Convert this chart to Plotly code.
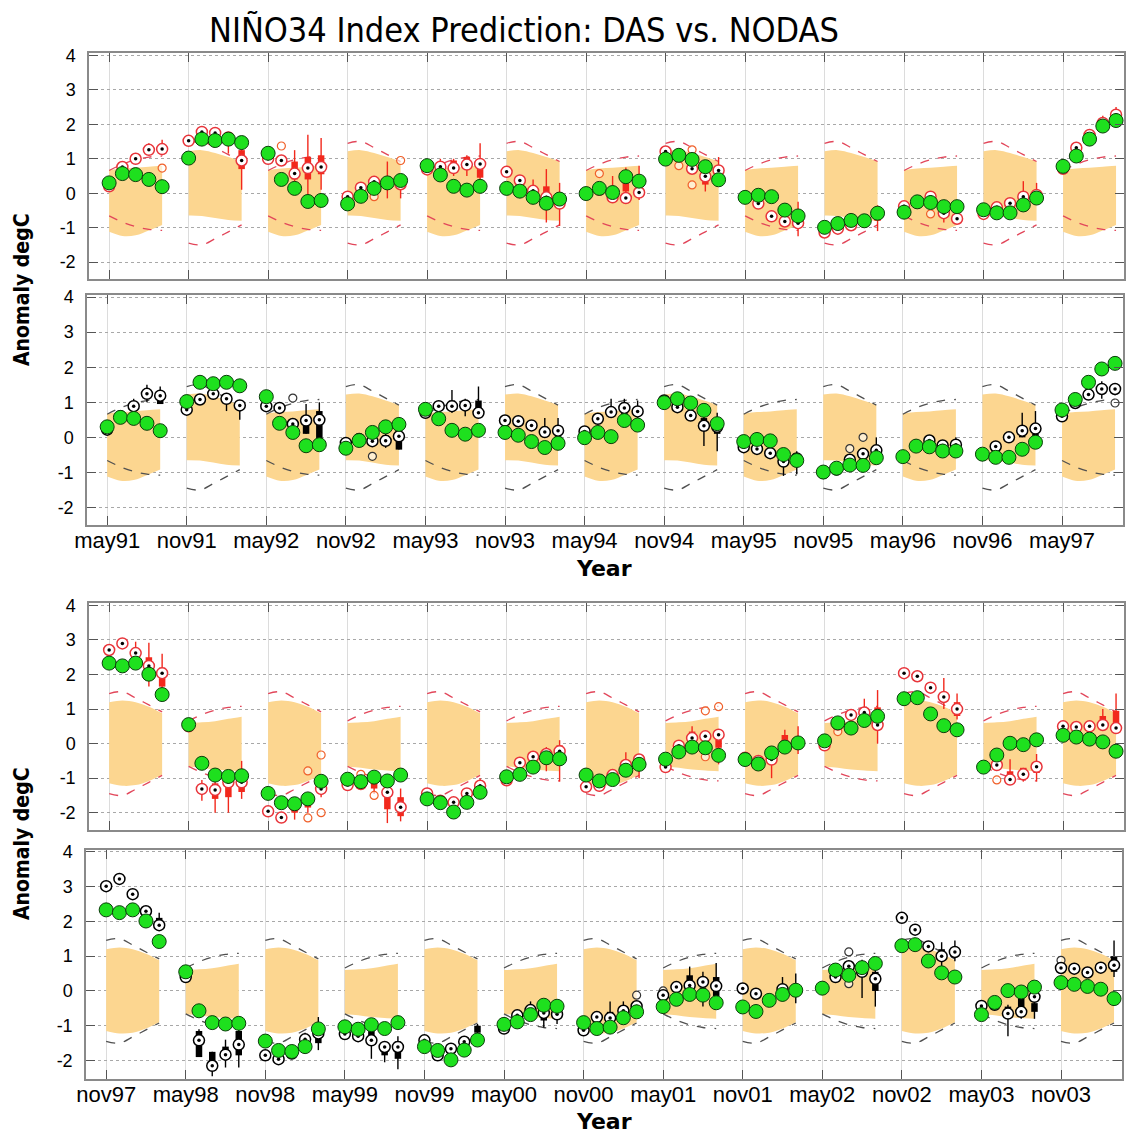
import plotly.graph_objects as go

# ---------------- data ----------------
TOP_LABELS = ['may91', 'nov91', 'may92', 'nov92', 'may93', 'nov93', 'may94',
              'nov94', 'may95', 'nov95', 'may96', 'nov96', 'may97']
BOT_LABELS = ['nov97', 'may98', 'nov98', 'may99', 'nov99', 'may00', 'nov00',
              'may01', 'nov01', 'may02', 'nov02', 'may03', 'nov03']
LEADS = [0, 1, 2, 3, 4]

# observed Nino3.4 anomaly (green), 5 months per forecast start
OBS_TOP = [
    [0.30, 0.57, 0.54, 0.40, 0.19],
    [1.02, 1.57, 1.53, 1.57, 1.47],
    [1.16, 0.40, 0.14, -0.24, -0.21],
    [-0.31, -0.09, 0.14, 0.30, 0.37],
    [0.80, 0.53, 0.20, 0.09, 0.20],
    [0.14, 0.06, -0.12, -0.29, -0.17],
    [-0.01, 0.14, 0.02, 0.48, 0.35],
    [0.99, 1.10, 0.98, 0.77, 0.39],
    [-0.12, -0.06, -0.10, -0.49, -0.66],
    [-0.99, -0.88, -0.79, -0.80, -0.58],
    [-0.55, -0.25, -0.27, -0.39, -0.39],
    [-0.48, -0.57, -0.57, -0.34, -0.14],
    [0.78, 1.08, 1.57, 1.95, 2.11],
]
OBS_BOT = [
    [2.33, 2.25, 2.33, 2.01, 1.42],
    [0.55, -0.57, -0.91, -0.95, -0.93],
    [-1.44, -1.71, -1.74, -1.60, -1.09],
    [-1.03, -1.10, -0.97, -1.08, -0.91],
    [-1.60, -1.71, -1.98, -1.70, -1.41],
    [-0.96, -0.89, -0.68, -0.41, -0.44],
    [-0.91, -1.08, -1.04, -0.77, -0.60],
    [-0.45, -0.24, -0.10, -0.12, -0.34],
    [-0.46, -0.59, -0.27, -0.10, 0.02],
    [0.08, 0.60, 0.45, 0.67, 0.79],
    [1.30, 1.33, 0.86, 0.52, 0.40],
    [-0.68, -0.33, 0.01, -0.03, 0.11],
    [0.24, 0.19, 0.13, 0.05, -0.22],
]

# ensemble-mean forecasts
MEAN_DAS_TOP = [
    [0.20, 0.76, 1.00, 1.26, 1.28],
    [1.52, 1.78, 1.75, 1.62, 0.95],
    [1.00, 0.95, 0.57, 0.73, 0.76],
    [-0.10, 0.16, 0.33, 0.30, 0.26],
    [0.69, 0.77, 0.73, 0.83, 0.85],
    [0.62, 0.37, 0.07, -0.12, -0.30],
    [0.00, 0.10, -0.12, -0.14, 0.02],
    [1.21, 1.08, 0.71, 0.49, 0.66],
    [-0.10, -0.30, -0.67, -0.82, -0.87],
    [-1.14, -1.03, -0.93, -0.82, -0.60],
    [-0.38, -0.28, -0.10, -0.58, -0.74],
    [-0.60, -0.41, -0.29, -0.10, -0.05],
    [0.71, 1.32, 1.69, 2.04, 2.28],
]
MEAN_NODAS_TOP = [
    [0.22, 0.60, 0.89, 1.24, 1.19],
    [0.79, 1.08, 1.24, 1.10, 0.91],
    [0.89, 0.84, 0.38, 0.48, 0.50],
    [-0.16, -0.05, -0.11, -0.10, 0.03],
    [0.70, 0.89, 0.89, 0.91, 0.70],
    [0.48, 0.46, 0.34, 0.15, 0.19],
    [0.17, 0.53, 0.72, 0.84, 0.74],
    [1.05, 0.86, 0.62, 0.33, 0.30],
    [-0.28, -0.33, -0.45, -0.69, -0.60],
    [-1.02, -0.92, -0.64, -0.47, -0.37],
    [-0.55, -0.24, -0.09, -0.23, -0.21],
    [-0.50, -0.26, 0.00, 0.19, 0.25],
    [0.60, 0.98, 1.22, 1.38, 1.38],
]
MEAN_DAS_BOT = [
    [2.71, 2.90, 2.62, 2.25, 2.04],
    [0.50, -1.31, -1.34, -1.12, -1.12],
    [-1.96, -2.14, -1.79, -1.62, -1.31],
    [-1.20, -1.17, -1.00, -1.41, -1.84],
    [-1.44, -1.65, -1.70, -1.44, -1.22],
    [-1.06, -0.55, -0.38, -0.30, -0.22],
    [-1.25, -1.22, -0.91, -0.62, -0.46],
    [-0.68, -0.06, 0.16, 0.21, 0.26],
    [-0.41, -0.50, -0.46, -0.05, 0.00],
    [-0.05, 0.55, 0.83, 0.90, 0.54],
    [2.04, 1.95, 1.62, 1.35, 1.00],
    [-0.68, -0.62, -1.04, -0.89, -0.67],
    [0.50, 0.48, 0.50, 0.54, 0.45],
]
MEAN_NODAS_BOT = [
    [3.01, 3.22, 2.78, 2.29, 1.89],
    [0.40, -1.42, -2.15, -1.83, -1.54],
    [-1.85, -1.96, -1.80, -1.39, -1.22],
    [-1.24, -1.30, -1.42, -1.61, -1.61],
    [-1.42, -1.85, -1.66, -1.46, -1.40],
    [-1.08, -0.70, -0.55, -0.63, -0.67],
    [-1.13, -0.75, -0.78, -0.57, -0.44],
    [-0.12, 0.11, 0.16, 0.26, 0.14],
    [0.07, -0.08, -0.25, 0.05, 0.00],
    [0.10, 0.40, 0.71, 0.55, 0.35],
    [2.10, 1.76, 1.28, 1.00, 1.12],
    [-0.43, -0.40, -0.65, -0.60, -0.17],
    [0.66, 0.64, 0.53, 0.67, 0.74],
]

# ensemble spread boxes: (group, lead, q1, q3, whisker_low, whisker_high)
BOX_DAS_TOP = [
    (0, 2, 1.00, 1.05, 0.90, 1.10), (0, 3, 1.15, 1.30, 1.10, 1.45), (0, 4, 1.15, 1.30, 1.10, 1.55),
    (1, 3, 1.55, 1.65, 1.15, 1.65), (1, 4, 0.70, 1.25, 0.10, 1.65),
    (2, 2, 0.40, 0.92, 0.30, 1.25), (2, 3, 0.40, 1.05, -0.20, 1.70), (2, 4, 0.55, 1.10, 0.10, 1.60),
    (3, 3, 0.25, 0.35, -0.15, 0.92), (3, 4, 0.20, 0.30, -0.15, 0.55),
    (4, 1, 0.70, 0.80, 0.60, 1.00), (4, 2, 0.75, 0.95, 0.50, 1.00), (4, 3, 0.75, 1.05, 0.50, 1.10),
    (4, 4, 0.45, 0.85, 0.30, 1.45),
    (5, 2, 0.00, 0.20, -0.10, 0.40), (5, 3, -0.20, 0.20, -0.85, 0.70), (5, 4, -0.40, -0.20, -0.95, 0.30),
    (6, 2, -0.05, 0.10, -0.15, 0.50), (6, 3, 0.05, 0.30, -0.20, 0.75), (6, 4, -0.10, 0.10, -0.20, 0.80),
    (7, 3, 0.25, 0.45, 0.05, 0.60), (7, 4, 0.55, 0.75, 0.30, 1.05),
    (8, 4, -0.75, -0.60, -1.25, -0.25),
    (9, 4, -0.80, -0.40, -1.10, -0.35),
    (10, 3, -0.55, -0.35, -0.85, -0.20), (10, 4, -0.75, -0.60, -0.80, -0.50),
    (11, 3, -0.20, -0.05, -0.25, 0.35), (11, 4, -0.10, 0.00, -0.20, 0.30),
    (12, 3, 1.95, 2.10, 1.90, 2.25), (12, 4, 2.10, 2.35, 2.05, 2.50),
]
BOX_NODAS_TOP = [
    (0, 2, 0.90, 1.00, 0.85, 1.10), (0, 3, 1.15, 1.30, 1.00, 1.50), (0, 4, 0.95, 1.15, 0.95, 1.45),
    (1, 3, 1.05, 1.15, 0.75, 1.25), (1, 4, 0.85, 0.95, 0.50, 1.05),
    (2, 3, 0.10, 0.55, 0.10, 0.95), (2, 4, -0.05, 0.75, -0.05, 1.00),
    (3, 3, -0.05, 0.05, -0.30, 0.10), (3, 4, -0.35, 0.20, -0.35, 0.20),
    (4, 2, 0.90, 1.05, 0.70, 1.35), (4, 3, 0.90, 1.05, 0.60, 1.10), (4, 4, 0.80, 1.05, 0.60, 1.45),
    (5, 3, 0.15, 0.30, 0.00, 0.55), (5, 4, 0.00, 0.10, 0.00, 0.55),
    (6, 2, 0.65, 0.75, 0.55, 1.10), (6, 3, 0.65, 0.85, 0.55, 1.10), (6, 4, 0.65, 0.75, 0.55, 1.05),
    (7, 3, 0.40, 0.55, -0.25, 0.60), (7, 4, 0.10, 0.30, -0.40, 0.70),
    (8, 2, -0.50, -0.35, -0.55, -0.30), (8, 3, -0.75, -0.60, -1.10, -0.55), (8, 4, -0.60, -0.45, -1.05, -0.40),
    (9, 4, -0.45, -0.35, -0.50, 0.00),
    (10, 4, -0.20, -0.10, -0.35, 0.00),
    (11, 3, 0.00, 0.20, 0.00, 0.70), (11, 4, 0.00, 0.10, 0.00, 0.75),
    (12, 3, 1.35, 1.45, 1.10, 1.60), (12, 4, 1.35, 1.40, 1.20, 1.55),
]
BOX_DAS_BOT = [
    (0, 2, 2.60, 2.75, 2.50, 2.95), (0, 3, 1.83, 2.50, 1.65, 2.92), (0, 4, 1.65, 2.20, 1.60, 2.60),
    (1, 1, -1.45, -1.20, -1.65, -1.05), (1, 2, -1.60, -1.15, -2.00, -1.10),
    (1, 3, -1.55, -1.00, -2.00, -0.95), (1, 4, -1.40, -1.15, -1.60, -0.50),
    (2, 2, -2.00, -1.85, -2.20, -1.75), (2, 3, -1.85, -1.70, -2.00, -1.50), (2, 4, -1.40, -1.25, -1.55, -1.10),
    (3, 2, -1.30, -1.10, -1.45, -0.95), (3, 3, -1.90, -1.40, -2.30, -1.20), (3, 4, -2.10, -1.55, -2.25, -1.30),
    (4, 3, -1.65, -1.45, -1.85, -1.40), (4, 4, -1.30, -1.20, -1.40, -1.00),
    (5, 3, -0.30, -0.20, -0.80, -0.10), (5, 4, -0.25, -0.05, -1.10, 0.10),
    (6, 3, -0.65, -0.55, -0.70, -0.25), (6, 4, -0.60, -0.40, -1.00, -0.30),
    (7, 2, 0.20, 0.35, 0.00, 0.50), (7, 3, 0.10, 0.20, -0.10, 0.30), (7, 4, -0.12, 0.11, -0.60, 0.30),
    (8, 2, -0.50, -0.40, -1.00, -0.30), (8, 3, 0.05, 0.25, -0.20, 0.40), (8, 4, -0.05, 0.10, -0.30, 0.50),
    (9, 2, 0.70, 0.80, 0.50, 0.90), (9, 3, 0.85, 1.00, 0.60, 1.30), (9, 4, 0.50, 1.05, 0.00, 1.55),
    (10, 3, 1.30, 1.45, 1.00, 1.90), (10, 4, 0.80, 1.20, 0.70, 1.45),
    (11, 2, -1.00, -0.80, -1.15, -0.45), (11, 3, -0.95, -0.70, -1.10, -0.70), (11, 4, -0.85, -0.70, -1.10, -0.30),
    (12, 3, 0.50, 0.80, 0.40, 1.00), (12, 4, 0.50, 0.95, 0.40, 1.45),
]
BOX_NODAS_BOT = [
    (0, 3, 2.25, 2.30, 2.20, 2.35), (0, 4, 1.90, 2.10, 1.85, 2.25),
    (1, 1, -1.90, -1.15, -1.90, -1.10), (1, 2, -2.30, -1.75, -2.45, -1.75),
    (1, 3, -1.85, -1.60, -2.20, -1.40), (1, 4, -1.85, -1.15, -2.20, -1.10),
    (2, 3, -1.45, -1.35, -1.55, -1.20), (2, 4, -1.50, -1.30, -1.70, -0.75),
    (3, 2, -1.40, -1.10, -1.95, -1.05), (3, 3, -1.85, -1.70, -2.05, -1.55), (3, 4, -1.95, -1.45, -2.25, -1.30),
    (4, 3, -1.55, -1.45, -1.60, -1.35), (4, 4, -1.20, -1.00, -1.30, -0.95),
    (5, 2, -0.55, -0.45, -0.60, -0.30), (5, 3, -0.85, -0.70, -1.05, -0.55), (5, 4, -0.75, -0.65, -0.95, -0.55),
    (6, 2, -0.70, -0.60, -0.90, -0.30), (6, 3, -0.55, -0.45, -0.65, -0.30),
    (7, 2, 0.25, 0.45, 0.00, 0.70), (7, 3, 0.00, 0.10, -0.45, 0.55), (7, 4, -0.15, 0.40, -0.45, 0.80),
    (8, 3, 0.00, 0.10, -0.30, 0.40), (8, 4, -0.10, 0.10, -0.35, 0.50),
    (9, 3, 0.55, 0.85, -0.20, 0.90), (9, 4, 0.00, 0.55, -0.45, 0.80),
    (10, 3, 1.00, 1.20, 0.70, 1.40), (10, 4, 1.00, 1.15, 0.85, 1.45),
    (11, 2, -0.75, -0.45, -1.30, -0.40), (11, 3, -0.50, -0.20, -0.80, -0.20), (11, 4, -0.60, -0.35, -0.80, -0.20),
    (12, 4, 0.55, 1.00, 0.40, 1.45),
]

# single-member outliers: (group, lead, value)
OUT_DAS_TOP = [(0, 4, 0.73), (2, 1, 1.37), (3, 2, -0.10), (3, 4, 0.95), (6, 1, 0.57),
               (7, 1, 0.80), (7, 2, 0.24), (7, 2, 1.26), (10, 2, -0.60)]
OUT_NODAS_TOP = [(2, 2, 1.12), (3, 2, -0.54), (9, 2, -0.32), (9, 3, 0.00), (12, 4, 0.98)]
OUT_DAS_BOT = [(2, 3, -0.79), (2, 4, -0.33), (2, 3, -2.15), (2, 4, -2.00), (3, 2, -1.50),
               (3, 1, -0.89), (7, 3, 0.95), (7, 4, 1.07), (7, 3, -0.38), (9, 1, 0.35), (11, 1, -1.05)]
OUT_NODAS_BOT = [(6, 4, -0.12), (9, 2, 1.12), (9, 2, 0.21), (12, 0, 0.88), (7, 0, 0.00)]

# climatological spread envelopes (shaded) and +/- limits (dashed)
BAND_TOP_MAY_UP = [0.68, 0.72, 0.74, 0.77, 0.80]
BAND_TOP_MAY_LO = [-1.12, -1.24, -1.22, -1.08, -0.92]
BAND_TOP_NOV_UP = [1.22, 1.25, 1.17, 1.05, 0.92]
BAND_TOP_NOV_LO = [-0.65, -0.66, -0.72, -0.78, -0.80]
BAND_BOT_NOV_UP = [1.20, 1.25, 1.20, 1.07, 0.88]
BAND_BOT_NOV_LO = [-1.15, -1.22, -1.20, -1.08, -0.90]
BAND_BOT_MAY_UP = [0.60, 0.62, 0.65, 0.72, 0.78]
BAND_BOT_MAY_LO = [-0.66, -0.70, -0.75, -0.78, -0.80]
LIMIT_MAY = [0.66, 0.84, 0.97, 1.05, 1.08]
LIMIT_NOV = [1.45, 1.50, 1.32, 1.12, 0.92]

# ---------------- styling ----------------
BAND_COLOR = '#fcd690'
GREEN = '#1ee01e'
GREEN_EDGE = '#0b3d0b'
RED = '#f2281c'
RED_RING = '#e8343a'
RED_DASH = '#e2465a'
ORANGE_OUT = '#f0602a'
GRAY_DASH = '#505050'

W, H = 1140, 1136
panels = [
    dict(n=1, obs=OBS_TOP, mean=MEAN_DAS_TOP, box=BOX_DAS_TOP, out=OUT_DAS_TOP, das=True, first='may',
         xdom=(89, 1124), ydom=(53, 279), yr=(-2.49, 4.07), labels=None),
    dict(n=2, obs=OBS_TOP, mean=MEAN_NODAS_TOP, box=BOX_NODAS_TOP, out=OUT_NODAS_TOP, das=False, first='may',
         xdom=(87, 1123), ydom=(295, 525), yr=(-2.5, 4.06), labels=TOP_LABELS),
    dict(n=3, obs=OBS_BOT, mean=MEAN_DAS_BOT, box=BOX_DAS_BOT, out=OUT_DAS_BOT, das=True, first='nov',
         xdom=(89, 1124), ydom=(603, 830), yr=(-2.5, 4.07), labels=None),
    dict(n=4, obs=OBS_BOT, mean=MEAN_NODAS_BOT, box=BOX_NODAS_BOT, out=OUT_NODAS_BOT, das=False, first='nov',
         xdom=(86, 1122), ydom=(850, 1079), yr=(-2.53, 4.05), labels=BOT_LABELS),
]

fig = go.Figure()
NG = 13


def xs(g):
    return [g * 6 + l for l in LEADS]


def kind_of(p, g):
    other = 'nov' if p['first'] == 'may' else 'may'
    return p['first'] if g % 2 == 0 else other


for p in panels:
    xa = 'x' if p['n'] == 1 else 'x%d' % p['n']
    ya = 'y' if p['n'] == 1 else 'y%d' % p['n']
    kw = dict(xaxis=xa, yaxis=ya, showlegend=False, hoverinfo='skip')
    # bands
    for g in range(NG):
        kind = kind_of(p, g)
        if p['obs'] is OBS_TOP:
            up, lo = (BAND_TOP_MAY_UP, BAND_TOP_MAY_LO) if kind == 'may' else (BAND_TOP_NOV_UP, BAND_TOP_NOV_LO)
        else:
            up, lo = (BAND_BOT_MAY_UP, BAND_BOT_MAY_LO) if kind == 'may' else (BAND_BOT_NOV_UP, BAND_BOT_NOV_LO)
        x = xs(g)
        fig.add_trace(go.Scatter(x=x, y=lo, mode='lines', line=dict(width=0, shape='spline'), **kw))
        fig.add_trace(go.Scatter(x=x, y=up, mode='lines', line=dict(width=0, shape='spline'),
                                 fill='tonexty', fillcolor=BAND_COLOR, **kw))
    # dashed limits
    dx, dup, dlo = [], [], []
    for g in range(NG):
        lim = LIMIT_MAY if kind_of(p, g) == 'may' else LIMIT_NOV
        dx += xs(g) + [None]
        dup += lim + [None]
        dlo += [-v for v in lim] + [None]
    dcol = RED_DASH if p['das'] else GRAY_DASH
    for yy in (dup, dlo):
        fig.add_trace(go.Scatter(x=dx, y=yy, mode='lines',
                                 line=dict(color=dcol, width=1.3, dash='dash', shape='spline'), **kw))
    # whiskers & boxes
    bcol = RED if p['das'] else 'black'
    wx, wy, bx, by = [], [], [], []
    for (g, l, q1, q3, lo, hi) in p['box']:
        x = g * 6 + l
        wx += [x, x, None]
        wy += [lo, hi, None]
        bx += [x, x, None]
        by += [q1, q3, None]
    fig.add_trace(go.Scatter(x=wx, y=wy, mode='lines', line=dict(color=bcol, width=1.4), **kw))
    fig.add_trace(go.Scatter(x=bx, y=by, mode='lines', line=dict(color=bcol, width=6.5), **kw))
    # outliers
    ocol = ORANGE_OUT if p['das'] else '#333333'
    fig.add_trace(go.Scatter(x=[g * 6 + l for (g, l, v) in p['out']], y=[v for (g, l, v) in p['out']],
                             mode='markers', marker=dict(symbol='circle', size=8, color='rgba(255,255,255,0.6)',
                                                         line=dict(color=ocol, width=1.2)), **kw))
    # ensemble mean
    mx, my = [], []
    for g in range(NG):
        mx += xs(g)
        my += p['mean'][g]
    rcol = RED_RING if p['das'] else 'black'
    fig.add_trace(go.Scatter(x=mx, y=my, mode='markers',
                             marker=dict(symbol='circle', size=11, color='white', line=dict(color=rcol, width=1.5)),
                             **kw))
    fig.add_trace(go.Scatter(x=mx, y=my, mode='markers',
                             marker=dict(symbol='circle', size=3.5, color='black', line=dict(width=0)), **kw))
    # observations
    ox, oy = [], []
    for g in range(NG):
        ox += xs(g)
        oy += p['obs'][g]
    fig.add_trace(go.Scatter(x=ox, y=oy, mode='markers',
                             marker=dict(symbol='circle', size=14, color=GREEN,
                                         line=dict(color=GREEN_EDGE, width=1)), **kw))

layout = dict(width=W, height=H, margin=dict(l=0, r=0, t=0, b=0, pad=0), autosize=False,
              paper_bgcolor='white', plot_bgcolor='white', showlegend=False)
for p in panels:
    n = p['n']
    xk = 'xaxis' if n == 1 else 'xaxis%d' % n
    yk = 'yaxis' if n == 1 else 'yaxis%d' % n
    ya = 'y' if n == 1 else 'y%d' % n
    xa = 'x' if n == 1 else 'x%d' % n
    layout[xk] = dict(domain=[p['xdom'][0] / W, p['xdom'][1] / W], anchor=ya, range=[-1.52, 76.6],
                      tickvals=[6 * g for g in range(NG)],
                      ticktext=p['labels'] if p['labels'] else [''] * NG,
                      showticklabels=p['labels'] is not None, automargin=False,
                      ticks='inside', ticklen=9, tickcolor='#555', tickwidth=1.2,
                      showline=True, linecolor='#8a8a8a', linewidth=1.5, mirror='ticks',
                      showgrid=True, gridcolor='#dcdcdc', gridwidth=1, zeroline=False,
                      tickfont=dict(family='Liberation Sans, Arial, sans-serif', size=22, color='black'),
                      ticklabelstandoff=-5, fixedrange=True)
    layout[yk] = dict(domain=[1 - p['ydom'][1] / H, 1 - p['ydom'][0] / H], anchor=xa, range=list(p['yr']),
                      tickvals=[-2, -1, 0, 1, 2, 3, 4], ticktext=['-2', '-1', '0', '1', '2', '3', '4'],
                      automargin=False,
                      ticks='inside', ticklen=9, tickcolor='#555', tickwidth=1.2,
                      showline=True, linecolor='#8a8a8a', linewidth=1.5, mirror='ticks',
                      showgrid=True, gridcolor='#a8a8a8', gridwidth=1, griddash='dot', zeroline=False,
                      tickfont=dict(family='Liberation Sans, Arial, sans-serif', size=18, color='black'),
                      ticklabelstandoff=8, fixedrange=True)
fig.update_layout(**layout)

NARROW = 'Liberation Sans Narrow, Arial Narrow, DejaVu Sans Condensed, sans-serif'
fig.add_annotation(text='NIÑO34 Index Prediction: DAS vs. NODAS', xref='paper', yref='paper',
                   x=524 / W, y=1 - 30 / H, showarrow=False, xanchor='center', yanchor='middle',
                   font=dict(family=NARROW, size=34, color='black'))
for yc in (290, 844):
    fig.add_annotation(text='<b>Anomaly degC</b>', xref='paper', yref='paper', x=22 / W, y=1 - yc / H,
                       showarrow=False, textangle=-90, xanchor='center', yanchor='middle',
                       font=dict(family=NARROW, size=21, color='black'))
for yc in (568, 1121):
    fig.add_annotation(text='<b>Year</b>', xref='paper', yref='paper', x=604 / W, y=1 - yc / H,
                       showarrow=False, xanchor='center', yanchor='middle',
                       font=dict(family='DejaVu Sans, sans-serif', size=22, color='black'))

fig.write_html('out.html')
